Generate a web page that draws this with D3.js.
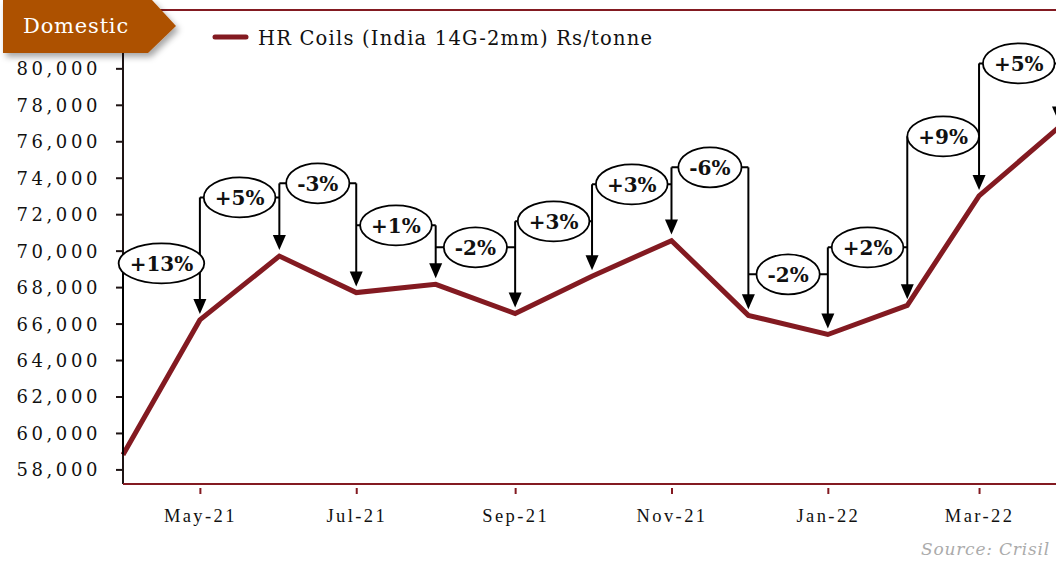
<!DOCTYPE html>
<html>
<head>
<meta charset="UTF-8">
<title>HR Coils domestic price</title>
<script src="https://cdn.jsdelivr.net/npm/d3@7"></script>
<style>
  body { margin: 0; background: #fff; }
  svg { display: block; }
</style>
</head>
<body>
<script>
// month categories and prices (Rs/tonne)
var months = ["Apr-21", "May-21", "Jun-21", "Jul-21", "Aug-21", "Sep-21", "Oct-21",
              "Nov-21", "Dec-21", "Jan-22", "Feb-22", "Mar-22", "Apr-22"];
var prices = [58800, 66200, 69700, 67700, 68150, 66550, 68600, 70550, 66450, 65400, 67000, 73000, 76750];

// month-on-month change labels and the value level each callout sits at
var changeLabels = ["+13%", "+5%", "-3%", "+1%", "-2%", "+3%", "+3%", "-6%", "-2%", "+2%", "+9%", "+5%"];
var calloutLevels = [69300, 72920, 73690, 71390, 70180, 71610, 73640, 74570, 68700, 70180, 76270, 80270];

var tickMonths = ["May-21", "Jul-21", "Sep-21", "Nov-21", "Jan-22", "Mar-22"];
var yTicks = d3.range(58000, 80001, 2000);

var width = 1056, height = 567;
var lineColor = "#831a21";

var parseMonth = d3.timeParse("%b-%y");
var fmtMonth = d3.timeFormat("%b-%y");
var dates = months.map(parseMonth);

var svg = d3.select("body").append("svg")
    .attr("width", width)
    .attr("height", height);

var defs = svg.append("defs");
var shadow = defs.append("filter").attr("id", "shadow")
    .attr("x", "-20%").attr("y", "-20%").attr("width", "150%").attr("height", "160%");
shadow.append("feDropShadow")
    .attr("dx", 3).attr("dy", 4).attr("stdDeviation", 3)
    .attr("flood-color", "#000").attr("flood-opacity", 0.35);

// scales (date axis, so short months are narrower)
var x = d3.scaleTime().domain([dates[0], dates[dates.length - 1]]).range([123, 1058.5]);
var y = d3.scaleLinear().domain([57200, 83200]).range([484, 10]);

// top rule
svg.append("line")
    .attr("x1", 150).attr("x2", width)
    .attr("y1", 10).attr("y2", 10)
    .attr("stroke", lineColor).attr("stroke-width", 2);

// y axis
var yAxis = svg.append("g")
    .attr("transform", "translate(123,0)")
    .call(d3.axisLeft(y).tickValues(yTicks).tickSize(7).tickFormat(d3.format(",")));
yAxis.select(".domain").attr("stroke", "#1e1414").attr("stroke-width", 2)
    .attr("d", "M0,10V484");
yAxis.selectAll(".tick line").attr("stroke", "#1e1414").attr("stroke-width", 2);
yAxis.selectAll(".tick text")
    .attr("x", -22)
    .attr("dy", "0.36em")
    .style("font-family", "'DejaVu Serif', serif")
    .style("font-size", "18px")
    .style("letter-spacing", "3.6px")
    .attr("fill", "#111");

// x axis
var xAxis = svg.append("g")
    .attr("transform", "translate(0,484)")
    .call(d3.axisBottom(x).tickValues(tickMonths.map(parseMonth)).tickFormat(fmtMonth)
        .tickSize(0).tickPadding(0));
xAxis.select(".domain").attr("stroke", lineColor).attr("stroke-width", 2)
    .attr("d", "M123,0H" + width);
xAxis.selectAll(".tick line")
    .attr("y1", 4).attr("y2", 10)
    .attr("stroke", lineColor).attr("stroke-width", 2);
xAxis.selectAll(".tick text")
    .attr("y", 32)
    .attr("dy", "0.32em")
    .style("font-family", "'Liberation Serif', serif")
    .style("font-size", "18.5px")
    .style("letter-spacing", "2.4px")
    .attr("fill", "#111");

// price line
var line = d3.line()
    .x(function (d, i) { return x(dates[i]); })
    .y(function (d) { return y(d); });

svg.append("path")
    .datum(prices)
    .attr("d", line)
    .attr("fill", "none")
    .attr("stroke", lineColor)
    .attr("stroke-width", 5)
    .attr("stroke-linejoin", "miter");

// callouts: vertical drops with arrows
var g = svg.append("g");
prices.forEach(function (p, i) {
    var xi = x(dates[i]);
    var levels = [];
    if (i > 0) levels.push(y(calloutLevels[i - 1]));
    if (i < calloutLevels.length) levels.push(y(calloutLevels[i]));
    var top = d3.min(levels);
    var tip = y(p) - 6;
    if (i === 0) {
        g.append("line")
            .attr("x1", xi).attr("x2", xi).attr("y1", top).attr("y2", y(p))
            .attr("stroke", "#000").attr("stroke-width", 2);
        return;
    }
    g.append("line")
        .attr("x1", xi).attr("x2", xi).attr("y1", top).attr("y2", tip - 12)
        .attr("stroke", "#000").attr("stroke-width", 2);
    g.append("path")
        .attr("d", "M" + (xi - 6.5) + "," + (tip - 15) + "L" + (xi + 6.5) + "," + (tip - 15) +
                   "L" + xi + "," + tip + "Z")
        .attr("fill", "#000");
});

// callouts: horizontal connectors and ellipses
changeLabels.forEach(function (lab, i) {
    var x0 = x(dates[i]), x1 = x(dates[i + 1]);
    var cy = y(calloutLevels[i]);
    var cx = (x0 + x1) / 2;
    g.append("line")
        .attr("x1", x0).attr("x2", x1).attr("y1", cy).attr("y2", cy)
        .attr("stroke", "#000").attr("stroke-width", 2);
    var ell = g.append("ellipse")
        .attr("cx", cx).attr("cy", cy).attr("ry", 20)
        .attr("fill", "#fff").attr("stroke", "#000").attr("stroke-width", 1.8);
    var t = g.append("text")
        .attr("x", cx).attr("y", cy)
        .attr("dy", "0.38em")
        .attr("text-anchor", "middle")
        .style("font-family", "'DejaVu Serif', serif")
        .style("font-weight", "bold")
        .style("font-size", "20px")
        .attr("fill", "#111")
        .text(lab);
    var w = t.node().getComputedTextLength();
    ell.attr("rx", w / 2 + 11);
});

// legend
svg.append("line")
    .attr("x1", 215).attr("x2", 246).attr("y1", 37).attr("y2", 37)
    .attr("stroke", lineColor).attr("stroke-width", 5).attr("stroke-linecap", "round");
svg.append("text")
    .attr("x", 258).attr("y", 38).attr("dy", "0.35em")
    .style("font-family", "'DejaVu Serif', serif")
    .style("font-size", "19.5px")
    .style("letter-spacing", "1.2px")
    .attr("fill", "#111")
    .text("HR Coils (India 14G-2mm) Rs/tonne");

// badge
svg.append("path")
    .attr("d", "M3,0H152L176,26L148,53H3Z")
    .attr("fill", "#ad5100")
    .attr("filter", "url(#shadow)");
svg.append("text")
    .attr("x", 76).attr("y", 26).attr("dy", "0.35em")
    .attr("text-anchor", "middle")
    .style("font-family", "'DejaVu Serif', serif")
    .style("font-size", "21px")
    .style("letter-spacing", "0.8px")
    .attr("fill", "#fff")
    .text("Domestic");

// source
svg.append("text")
    .attr("x", 1050).attr("y", 555)
    .attr("text-anchor", "end")
    .style("font-family", "'DejaVu Serif', serif")
    .style("font-style", "italic")
    .style("font-size", "17px")
    .style("letter-spacing", "0.8px")
    .attr("fill", "#ababab")
    .text("Source: Crisil");
</script>
</body>
</html>
